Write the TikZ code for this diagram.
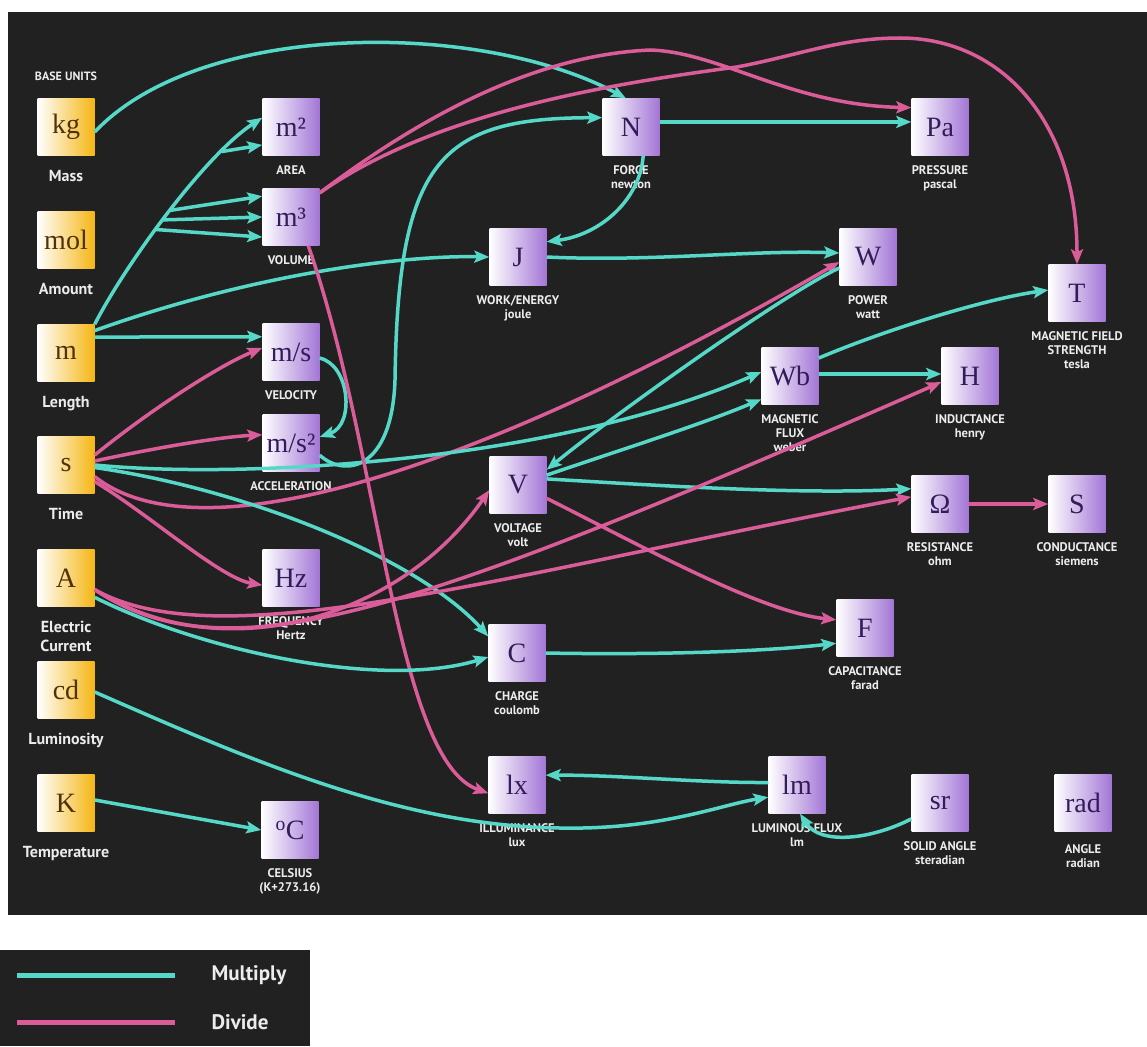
\documentclass[tikz,border=0pt]{standalone}
\usepackage{fontspec}
\usetikzlibrary{arrows.meta, backgrounds, positioning}
\newfontfamily\symfont{Liberation Serif}
\newfontfamily\lblfont{PT Sans}
\definecolor{panel}{RGB}{33,33,33}
\definecolor{mulcol}{RGB}{86,216,200}
\definecolor{divcol}{RGB}{218,92,152}
\definecolor{basecol}{RGB}{245,182,20}
\definecolor{dercol}{RGB}{163,118,214}
\definecolor{basetxt}{RGB}{80,50,10}
\definecolor{dertxt}{RGB}{50,28,90}
\definecolor{lbltxt}{RGB}{236,236,236}

\begin{document}
\begin{tikzpicture}[x=1pt, y=-1pt,
    unit/.style={minimum size=57pt, inner sep=0pt, font=\symfont\fontsize{28}{30}\selectfont},
    base/.style={unit, left color=white, middle color=basecol, right color=basecol, text=basetxt},
    derived/.style={unit, left color=white, middle color=dercol, right color=dercol, text=dertxt},
    baselbl/.style={text=lbltxt, font=\lblfont\bfseries\fontsize{16}{19}\selectfont, align=center, inner sep=0pt, label distance=14pt},
    derlbl/.style={text=lbltxt, font=\lblfont\bfseries\fontsize{12.5}{14}\selectfont, align=center, inner sep=0pt, label distance=9.5pt},
    mul/.style={draw=mulcol, line width=3.5pt, -{Stealth[length=15pt, width=12pt, inset=3pt]}},
    div/.style={draw=divcol, line width=3.5pt, -{Stealth[length=15pt, width=12pt, inset=3pt]}}]

    \useasboundingbox (0,0) rectangle (1147,1046);

    % Define nodes
    \node[text=lbltxt, font=\lblfont\bfseries\fontsize{12}{14}\selectfont] (bu) at (66,76) {BASE UNITS};
    \node[base, label={[baselbl]below:Mass}] (kg) at (66,127) {kg};
    \node[base, label={[baselbl]below:Amount}] (mol) at (66,240) {mol};
    \node[base, label={[baselbl]below:Length}] (m) at (66,353) {m};
    \node[base, label={[baselbl]below:Time}] (s) at (66,465) {s};
    \node[base, label={[baselbl]below:Electric\\Current}] (A) at (66,578) {A};
    \node[base, label={[baselbl]below:Luminosity}] (cd) at (66,690) {cd};
    \node[base, label={[baselbl]below:Temperature}] (K) at (66,803) {K};

    \node[derived, label={[derlbl]below:AREA}] (area) at (291,127) {m²};
    \node[derived, label={[derlbl]below:VOLUME}] (vol) at (291,217) {m³};
    \node[derived, label={[derlbl]below:VELOCITY}] (vel) at (291,352) {m/s};
    \node[derived, label={[derlbl]below:ACCELERATION}] (acc) at (291,443) {m/s²};
    \node[derived, label={[derlbl]below:FREQUENCY\\Hertz}] (Hz) at (291,578) {Hz};
    \node[derived, label={[derlbl]below:CELSIUS\\(K+273.16)}] (degC) at (290,830) {\textsuperscript{o}C};

    \node[derived, label={[derlbl]below:FORCE\\newton}] (N) at (631,127) {N};
    \node[derived, label={[derlbl]below:WORK/ENERGY\\joule}] (J) at (518,257) {J};
    \node[derived, label={[derlbl]below:VOLTAGE\\volt}] (V) at (518,485) {V};
    \node[derived, label={[derlbl]below:CHARGE\\coulomb}] (C) at (517,653) {C};
    \node[derived, label={[derlbl]below:ILLUMINANCE\\lux}] (lx) at (517,785) {lx};

    \node[derived, label={[derlbl]below:PRESSURE\\pascal}] (Pa) at (940,127) {Pa};
    \node[derived, label={[derlbl]below:POWER\\watt}] (W) at (868,257) {W};
    \node[derived, label={[derlbl]below:MAGNETIC FIELD\\STRENGTH\\tesla}] (T) at (1077,293) {T};
    \node[derived, label={[derlbl]below:MAGNETIC\\FLUX\\weber}] (Wb) at (790,376) {Wb};
    \node[derived, label={[derlbl]below:INDUCTANCE\\henry}] (H) at (970,376) {H};
    \node[derived, label={[derlbl]below:RESISTANCE\\ohm}] (Om) at (940,504) {Ω};
    \node[derived, label={[derlbl]below:CONDUCTANCE\\siemens}] (S) at (1077,504) {S};
    \node[derived, label={[derlbl]below:CAPACITANCE\\farad}] (F) at (865,628) {F};
    \node[derived, label={[derlbl]below:LUMINOUS FLUX\\lm}] (lm) at (797,785) {lm};
    \node[derived, label={[derlbl]below:SOLID ANGLE\\steradian}] (sr) at (940,803) {sr};
    \node[derived, label={[derlbl,label distance=13pt]below:ANGLE\\radian}] (rad) at (1083,803) {rad};

    % Draw edges
    \draw[mul] (kg.-10) .. controls (200,20) and (480,20) .. (N.100);
    \draw[mul] (m.north east) .. controls (125,265) and (205,155) .. (area.162)
        coordinate[pos=0.43] (br1) coordinate[pos=0.47] (br2) coordinate[pos=0.51] (br3) coordinate[pos=0.78] (br4);
    \draw[mul] (br4) -- (area.-148);
    \draw[mul] (br1) -- (vol.-145);
    \draw[mul] (br2) -- (vol.west);
    \draw[mul] (br3) -- (vol.144);
    \draw[mul] (m.38) .. controls (250,275) and (400,255) .. (J.west);
    \draw[mul] (m.29) -- (vel.152);

    \draw[div] (s.19) .. controls (150,410) and (220,365) .. (vel.172);
    \draw[div] (s.8) .. controls (160,447) and (220,437) .. (acc.164);
    \draw[div] (s.-22) .. controls (200,560) and (480,470) .. (W.-170);
    \draw[div] (s.-30) .. controls (150,515) and (220,578) .. (Hz.-166);
    \draw[mul] (s.east) .. controls (250,480) and (560,460) .. (Wb.172);
    \draw[mul] (s.-5) .. controls (250,490) and (420,560) .. (C.150);

    \draw[mul] (vel.-12) .. controls (350,365) and (355,425) .. (acc.12);
    \draw[mul] (acc.-23) .. controls (345,478) and (392,470) .. (395,380)
        .. controls (398,160) and (440,118) .. (N.162);

    \draw[div] (vol.40) .. controls (430,110) and (540,55) .. (650,50)
        .. controls (720,52) and (790,105) .. (Pa.146);
    \draw[div] (vol.40) .. controls (430,115) and (600,85) .. (737,67)
        .. controls (800,55) and (840,38) .. (900,38)
        .. controls (1000,38) and (1077,120) .. (T.north);
    \draw[div] (vol.-59) .. controls (380,450) and (395,760) .. (lx.-164);

    \draw[mul] (N.10) -- (Pa.170);
    \draw[mul] (N.-67) .. controls (640,200) and (600,235) .. (J.28);
    \draw[mul] (J.east) .. controls (650,262) and (750,250) .. (W.172);
    \draw[mul] (W.-159) .. controls (790,290) and (620,410) .. (V.28);
    \draw[mul] (V.19) .. controls (620,450) and (700,425) .. (Wb.-141);
    \draw[mul] (V.12) .. controls (650,485) and (800,495) .. (Om.152);
    \draw[div] (V.-25) .. controls (640,545) and (760,612) .. (F.164);
    \draw[mul] (Wb.32) .. controls (880,332) and (980,300) .. (T.174);
    \draw[mul] (Wb.4) -- (H.176);
    \draw[div] (Om.east) -- (S.west);
    \draw[mul] (C.east) .. controls (650,655) and (760,652) .. (F.-152);

    \draw[mul] (A.-34) .. controls (200,650) and (380,690) .. (C.-172);
    \draw[div] (A.-22) .. controls (220,670) and (400,620) .. (V.-170);
    \draw[div] (A.-22) .. controls (230,680) and (420,610) .. (H.-168);
    \draw[div] (A.-22) .. controls (220,660) and (500,575) .. (Om.166);

    \draw[mul] (lm.175) .. controls (700,783) and (620,775) .. (lx.19);
    \draw[mul] (cd.-4) .. controls (250,760) and (400,826) .. (560,828)
        .. controls (660,830) and (720,805) .. (lm.-157);
    \draw[mul] (sr.-151) .. controls (870,840) and (820,845) .. (lm.-84);
    \draw[mul] (K.6) -- (degC.west);

    % Legend
    \node[anchor=west, text=lbltxt, font=\lblfont\bfseries\fontsize{21}{24}\selectfont] (mlt) at (208,975) {Multiply};
    \node[anchor=west, text=lbltxt, font=\lblfont\bfseries\fontsize{21}{24}\selectfont] (dvd) at (208,1022) {Divide};
    \draw[mulcol, line width=5pt] (17,975) -- (175,975);
    \draw[divcol, line width=5pt] (17,1022) -- (175,1022);

    \begin{scope}[on background layer]
        \fill[white] (0,0) rectangle (1147,1046);
        \fill[panel] (8,12) rectangle (1147,915);
        \fill[panel] (0,950) rectangle (310,1046);
    \end{scope}

\end{tikzpicture}
\end{document}
